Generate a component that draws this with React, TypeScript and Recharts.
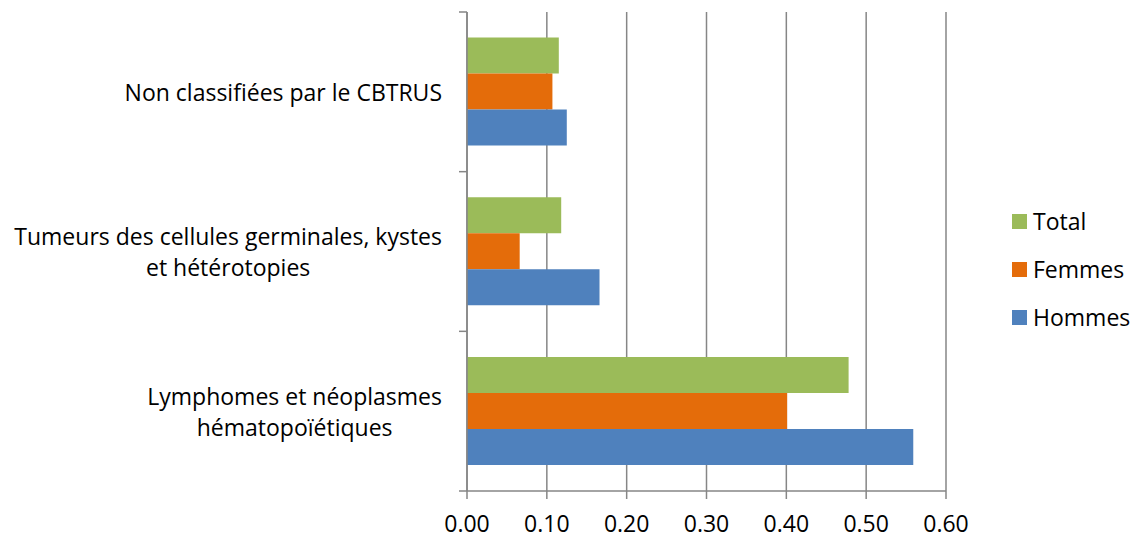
import React from 'react'
import { BarChart, Bar, XAxis, YAxis, CartesianGrid } from 'recharts'

// category labels, split the way they wrap in the original
const categoryLines = [
  ['Non classifiées par le CBTRUS'],
  ['Tumeurs des cellules germinales, kystes', 'et hétérotopies'],
  ['Lymphomes et néoplasmes', 'hématopoïétiques']
]
const categories = categoryLines.map((l) => l.join(' '))

const totalValues = [0.115, 0.118, 0.478]
const femmesValues = [0.107, 0.066, 0.401]
const hommesValues = [0.125, 0.166, 0.559]

const xTicks = [0, 0.1, 0.2, 0.3, 0.4, 0.5, 0.6]

const series = [
  { key: 'Total', color: '#9BBB59', values: totalValues },
  { key: 'Femmes', color: '#E46C0A', values: femmesValues },
  { key: 'Hommes', color: '#4F81BD', values: hommesValues }
]

const data = categories.map((name, i) => {
  const row: any = { name }
  series.forEach((s) => {
    row[s.key] = s.values[i]
  })
  return row
})

const FONT = 'Open Sans, sans-serif'
const FONT_SIZE = 23
const AXIS_COLOR = '#868686'

let measureCtx: CanvasRenderingContext2D | null = null
const textWidth = (t: string) => {
  if (!measureCtx) {
    measureCtx = document.createElement('canvas').getContext('2d')
  }
  if (!measureCtx) return t.length * FONT_SIZE * 0.5
  measureCtx.font = `${FONT_SIZE}px ${FONT}`
  return measureCtx.measureText(t).width
}

const TICK_MARGIN = 17
const TICK_LEN = 8
const LINE_H = 31

const CategoryTick = (props: any) => {
  const { x, y, payload, index } = props
  const lines = categoryLines[index] || [payload.value]
  const half = payload.offset || 0
  const maxW = Math.max(...lines.map(textWidth))
  const cx = lines.length > 1 ? x - maxW / 2 : x
  const anchor = lines.length > 1 ? 'middle' : 'end'
  const axisX = x + TICK_MARGIN + TICK_LEN
  const startY = y - ((lines.length - 1) * LINE_H) / 2
  return (
    <g>
      <line x1={axisX - TICK_LEN} x2={axisX} y1={y - half} y2={y - half} stroke={AXIS_COLOR} strokeWidth={1.5} />
      {index === categories.length - 1 && (
        <line x1={axisX - TICK_LEN} x2={axisX} y1={y + half} y2={y + half} stroke={AXIS_COLOR} strokeWidth={1.5} />
      )}
      <text x={cx} y={startY} textAnchor={anchor} fontFamily={FONT} fontSize={FONT_SIZE} fill="#000" dominantBaseline="central">
        {lines.map((l: string, i: number) => (
          <tspan key={i} x={cx} y={startY + i * LINE_H}>
            {l}
          </tspan>
        ))}
      </text>
    </g>
  )
}

export default function App() {
  return (
    <div style={{ position: 'absolute', left: 0, top: 0, width: 1135, height: 538, background: '#fff' }}>
      <BarChart
        width={1135}
        height={538}
        data={data}
        layout="vertical"
        margin={{ top: 12, right: 189, bottom: 0, left: 0 }}
        barCategoryGap="16%"
        barGap={0}
      >
        <CartesianGrid horizontal={false} stroke={AXIS_COLOR} strokeWidth={1.5} />
        <XAxis
          type="number"
          domain={[0, 0.6]}
          ticks={xTicks}
          interval={0}
          tickFormatter={(v: number) => v.toFixed(2)}
          height={47}
          tickSize={8}
          tickMargin={17}
          stroke={AXIS_COLOR}
          strokeWidth={1.5}
          tick={{ fill: '#000', fontSize: FONT_SIZE, fontFamily: FONT }}
        />
        <YAxis
          type="category"
          dataKey="name"
          width={467}
          tickLine={false}
          tickSize={TICK_LEN}
          tickMargin={TICK_MARGIN}
          stroke={AXIS_COLOR}
          strokeWidth={1.5}
          interval={0}
          tick={<CategoryTick />}
        />
        {series.map((s) => (
          <Bar key={s.key} dataKey={s.key} fill={s.color} isAnimationActive={false} />
        ))}
      </BarChart>
      <div style={{ position: 'absolute', left: 1012, top: 197 }}>
        {series.map((s) => (
          <div key={s.key} style={{ display: 'flex', alignItems: 'center', height: 48 }}>
            <div style={{ width: 15, height: 15, background: s.color, marginRight: 6 }} />
            <span style={{ fontFamily: FONT, fontSize: FONT_SIZE, color: '#000', lineHeight: '32px' }}>{s.key}</span>
          </div>
        ))}
      </div>
    </div>
  )
}
